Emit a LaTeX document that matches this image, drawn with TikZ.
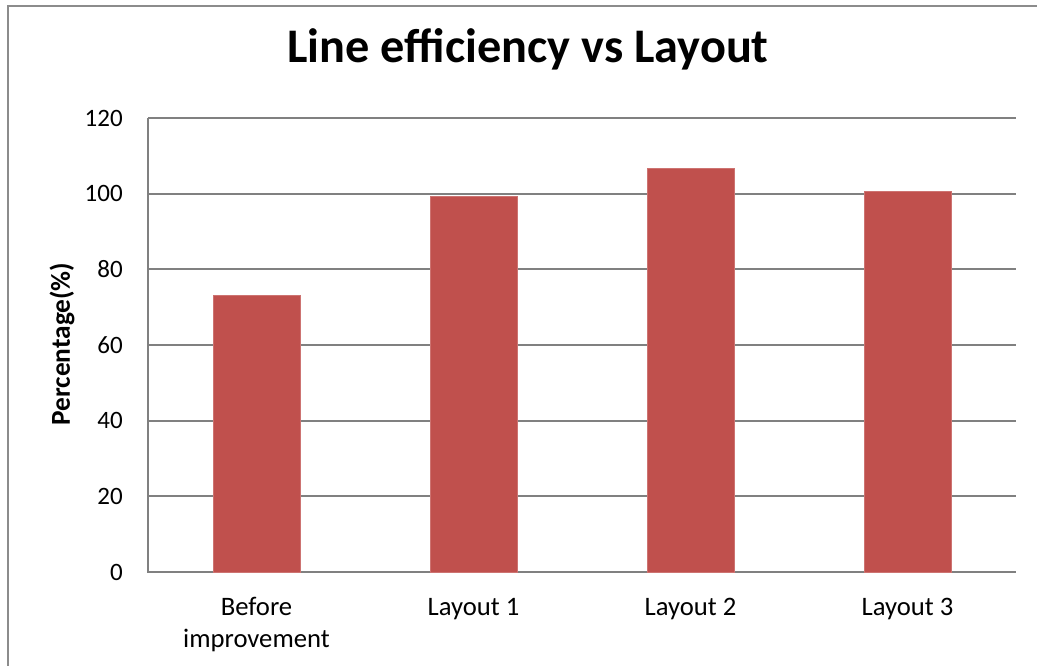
\documentclass[tikz,border=0pt]{standalone}
\usepackage{fontspec}
\setmainfont{Carlito}
\begin{document}
\begin{tikzpicture}[x=0.75pt,y=-0.75pt,
  frame/.style={draw=black!45,line width=1.5pt},
  gridline/.style={draw=black!50,line width=1.5pt},
  axisline/.style={draw=black!50,line width=1.5pt},
  bar/.style={fill=barred,draw=barred!80!white,line width=0.6pt},
  ticklabel/.style={anchor=east,inner sep=0pt,font=\fontsize{18.75pt}{22pt}\selectfont},
  catlabel/.style={anchor=base,inner sep=0pt,align=center,font=\fontsize{20pt}{24pt}\selectfont},
  titlelabel/.style={anchor=base,inner sep=0pt,font=\fontsize{36.2pt}{42pt}\selectfont\bfseries},
  axistitle/.style={rotate=90,inner sep=0pt,font=\fontsize{20.5pt}{24pt}\selectfont\bfseries}]
\definecolor{barred}{HTML}{C0504D}
\useasboundingbox (0,0) rectangle (1037,666);
\clip (0,0) rectangle (1037,666);
% chart frame
\draw[frame] (8,6) rectangle (1050,680);
% horizontal gridlines, 20 to 120
\foreach \v in {20,40,...,120}
  \draw[gridline] (148,{572-\v*3.7833}) -- (1016,{572-\v*3.7833});
% axes
\draw[axisline] (148,118) -- (148,572) -- (1016,572);
% bars
\fill[bar] (213,572) rectangle (300,{572-73.0*3.7833});
\fill[bar] (430,572) rectangle (517,{572-99.3*3.7833});
\fill[bar] (647,572) rectangle (734,{572-106.8*3.7833});
\fill[bar] (864,572) rectangle (951,{572-100.6*3.7833});
% tick labels
\foreach \v/\n in {0/t0,20/t20,40/t40,60/t60,80/t80,100/t100,120/t120}
  \node[ticklabel] (\n) at (123,{572-\v*3.7833}) {\v};
% category labels
\node[catlabel] (c1) at (256.5,647) {Before\\improvement};
\node[catlabel] (c2) at (473.5,615) {Layout 1};
\node[catlabel] (c3) at (690.5,615) {Layout 2};
\node[catlabel] (c4) at (907.5,615) {Layout 3};
% titles
\node[titlelabel] (title) at (528,63) {Line efficiency vs Layout};
\node[axistitle] (ytitle) at (62,344) {Percentage(\%)};
\end{tikzpicture}
\end{document}
